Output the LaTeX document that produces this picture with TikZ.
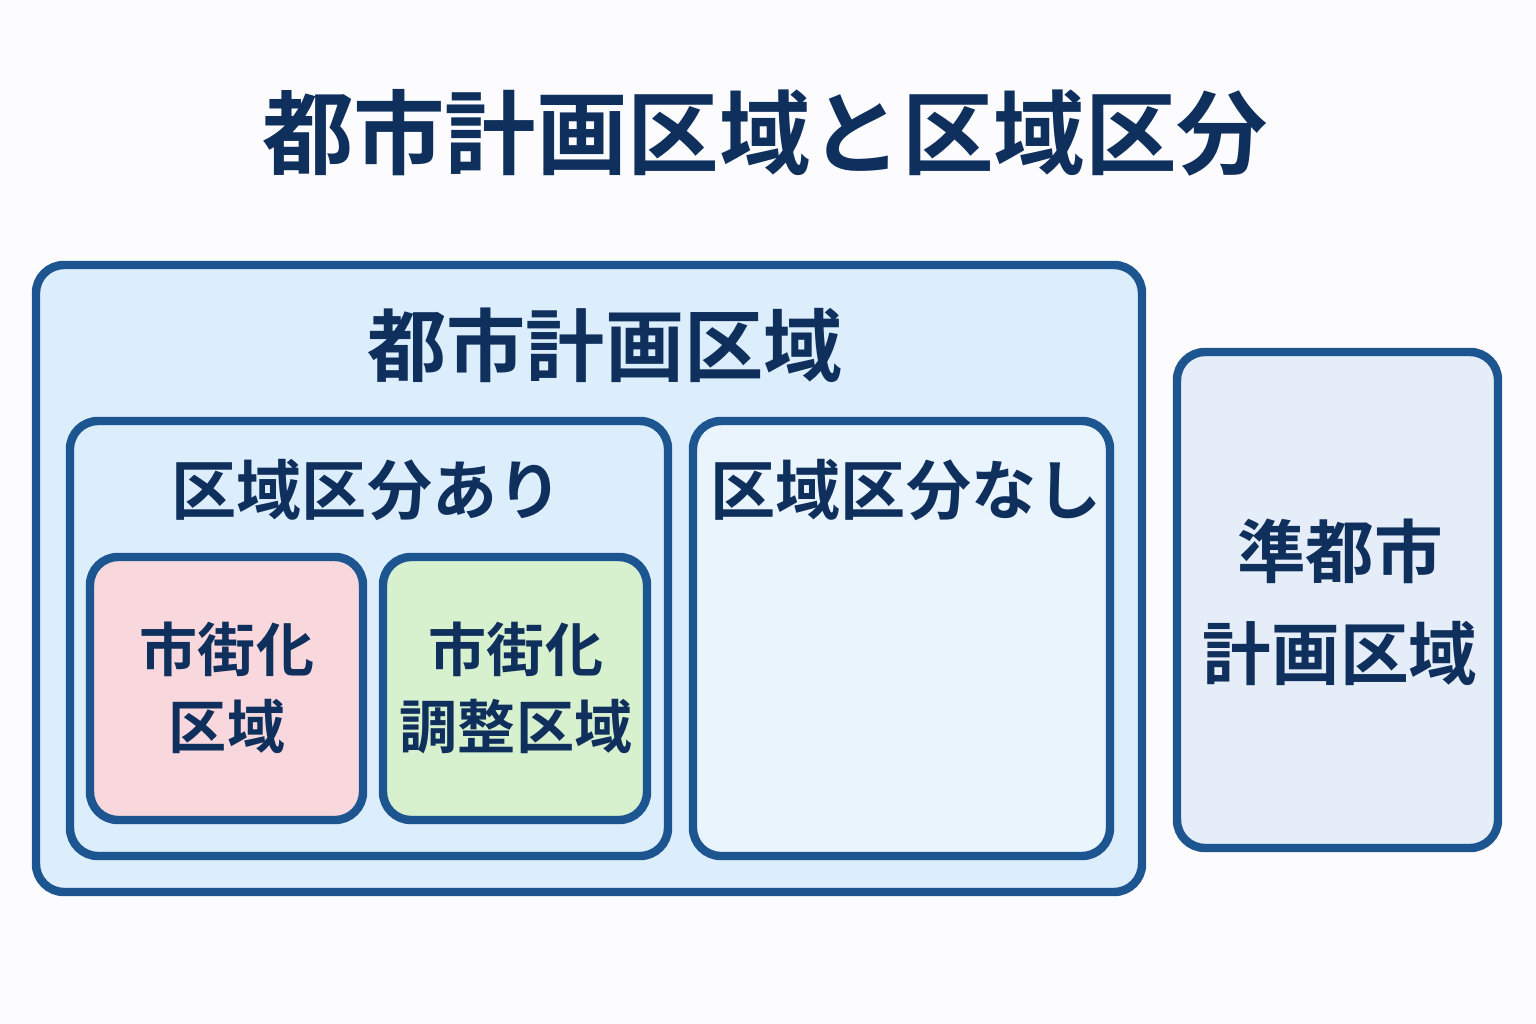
\documentclass[tikz,border=0pt]{standalone}
\usepackage{fontspec}
\setmainfont{Noto Sans CJK JP}[BoldFont={* Bold}]
\usetikzlibrary{positioning}
\definecolor{navyText}{HTML}{0F2F5C}
\definecolor{boxLine}{HTML}{1D5590}
\definecolor{outerFill}{HTML}{DCEDFB}
\definecolor{plainFill}{HTML}{E9F4FD}
\definecolor{quasiFill}{HTML}{E5EEF8}
\definecolor{urbanFill}{HTML}{F8D8DC}
\definecolor{controlFill}{HTML}{D7F0CD}
\tikzstyle{areaBox} = [draw=boxLine, line width=2.4pt, rounded corners=.28cm]
\tikzstyle{areaText} = [text=navyText, font=\bfseries, align=center]
\begin{document}
\begin{tikzpicture}[x=.01cm, y=-.01cm]
  \fill[white!96!blue!30] (0,0) rectangle (1536,1024);
  \useasboundingbox (0,0) rectangle (1536,1024);
  % title
  \node[areaText, font=\bfseries\fontsize{26}{30}\selectfont] (title) at (765,133) {都市計画区域と区域区分};
  % city planning area
  \draw[areaBox, fill=outerFill] (36,265) rectangle (1142,892);
  \node[areaText, font=\bfseries\fontsize{22.5}{26}\selectfont] (cityArea) at (605,345) {都市計画区域};
  \draw[areaBox, fill=outerFill] (70,421) rectangle (668,856);
  \node[areaText, font=\bfseries\fontsize{18.5}{22}\selectfont] (divided) at (367,490) {区域区分あり};
  \draw[areaBox, fill=plainFill] (693,421) rectangle (1110,856);
  \node[areaText, font=\bfseries\fontsize{18.5}{22}\selectfont] (undivided) at (906,490) {区域区分なし};
  \draw[areaBox, fill=urbanFill] (90,557) rectangle (363,820);
  \node[areaText, font=\bfseries\fontsize{16.5}{22}\selectfont] (urban) at (227,688) {市街化\\区域};
  \draw[areaBox, fill=controlFill] (383,557) rectangle (647,820);
  \node[areaText, font=\bfseries\fontsize{16.5}{22}\selectfont] (control) at (516,688) {市街化\\調整区域};
  % quasi city planning area
  \draw[areaBox, fill=quasiFill] (1177,352) rectangle (1498,848);
  \node[areaText, font=\bfseries\fontsize{19.5}{29}\selectfont] (quasi) at (1340,602) {準都市\\計画区域};
\end{tikzpicture}
\end{document}
